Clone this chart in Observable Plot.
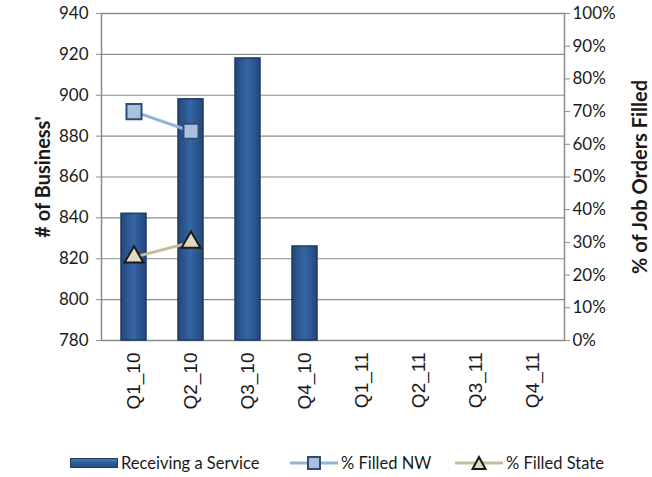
<!DOCTYPE html>
<html>
<head>
<meta charset="utf-8">
<script src="https://cdn.jsdelivr.net/npm/d3@7"></script>
<script src="https://cdn.jsdelivr.net/npm/@observablehq/plot@0.6"></script>
<style>
  body { margin: 0; background: #fff; font-family: Lato, sans-serif; }
  #chart svg [aria-label="y-axis label"] { font-weight: bold; font-size: 20px; }
  .legend { position: relative; height: 22px; margin-top: 12px; font-size: 16.5px; color: #1a1a1a; }
  .legend .item { position: absolute; top: 0; display: flex; align-items: center; height: 22px; white-space: nowrap; }
  .legend svg { margin-right: 3px; }
</style>
</head>
<body>
<div id="chart"></div>
<div class="legend">
  <div class="item" style="left:70px"><svg width="48" height="12"><defs><linearGradient id="lg" x1="0" y1="0" x2="0" y2="1"><stop offset="0" stop-color="#4C7DBA"/><stop offset="0.5" stop-color="#2E5C96"/><stop offset="1" stop-color="#244C80"/></linearGradient></defs><rect x="0.5" y="1.5" width="47" height="9" fill="url(#lg)" stroke="#1E3A5F"/></svg>Receiving a Service</div>
  <div class="item" style="left:290px"><svg width="48" height="16"><line x1="0" y1="8" x2="48" y2="8" stroke="#95B3D7" stroke-width="3"/><rect x="18" y="2" width="12" height="12" fill="#A9C0DE" stroke="#2C4D75" stroke-width="2"/></svg>% Filled NW</div>
  <div class="item" style="left:455px"><svg width="48" height="16"><line x1="0" y1="8" x2="48" y2="8" stroke="#C4BD97" stroke-width="3"/><path d="M24,2 L30.5,14 L17.5,14 Z" fill="#DDD9C3" stroke="#1a1a1a" stroke-width="2"/></svg>% Filled State</div>
</div>
<script>
const categories = ["Q1_10","Q2_10","Q3_10","Q4_10","Q1_11","Q2_11","Q3_11","Q4_11"];
const receiving = [842, 898, 918, 826];
const filledNW = [0.70, 0.64];
const filledState = [0.255, 0.30];
const leftTicks = [780, 800, 820, 840, 860, 880, 900, 920, 940];
const rightTicks = [0, 0.1, 0.2, 0.3, 0.4, 0.5, 0.6, 0.7, 0.8, 0.9, 1.0];

const yMin = 780, yMax = 940;
const pctToY = p => yMin + p * (yMax - yMin);

const bars = receiving.map((v, i) => ({cat: categories[i], value: v}));
const nw = filledNW.map((p, i) => ({cat: categories[i], y: pctToY(p)}));
const st = filledState.map((p, i) => ({cat: categories[i], y: pctToY(p)}));

const chart = Plot.plot({
  width: 652,
  height: 440,
  marginLeft: 101,
  marginRight: 88,
  marginTop: 13,
  marginBottom: 100,
  style: {fontFamily: "Lato, sans-serif", fontSize: "17px", color: "#1a1a1a", background: "#fff"},
  x: {type: "band", domain: categories, paddingInner: 0.57, paddingOuter: 0.285},
  y: {domain: [yMin, yMax]},
  marks: [
    Plot.gridY(leftTicks, {stroke: "#8c8c8c", strokeOpacity: 1, strokeWidth: 1.2}),
    Plot.frame({stroke: "#8c8c8c", strokeWidth: 1.5}),
    Plot.barY(bars, {x: "cat", y1: yMin, y2: "value", fill: "url(#barGrad)", stroke: "#1E3A5F", strokeWidth: 1.5}),
    Plot.lineY(nw, {x: "cat", y: "y", stroke: "#95B3D7", strokeWidth: 3}),
    Plot.dot(nw, {x: "cat", y: "y", symbol: "square", r: 8.5, fill: "#A9C0DE", stroke: "#2C4D75", strokeWidth: 2}),
    Plot.lineY(st, {x: "cat", y: "y", stroke: "#C4BD97", strokeWidth: 3}),
    Plot.dot(st, {x: "cat", y: "y", symbol: "triangle", r: 7, fill: "#DDD9C3", stroke: "#1a1a1a", strokeWidth: 2}),
    Plot.axisX({tickRotate: -90, tickSize: 0, tickPadding: 12, fontFamily: "'Liberation Sans', Arial, sans-serif", fontSize: 19, fill: "#1a1a1a", label: null}),
    Plot.axisY(leftTicks, {anchor: "left", tickSize: 5, tickPadding: 8, stroke: "#8c8c8c", fill: "#1a1a1a",
      label: "# of Business'", labelAnchor: "center", labelArrow: false, labelOffset: 66}),
    Plot.axisY(rightTicks.map(pctToY), {anchor: "right", tickSize: 5, tickPadding: 3, stroke: "#8c8c8c", fill: "#1a1a1a",
      tickFormat: d => Math.round((d - yMin) / (yMax - yMin) * 100) + "%",
      label: "% of Job Orders Filled", labelAnchor: "center", labelArrow: false, labelOffset: 82})
  ]
});

chart.insertAdjacentHTML("afterbegin",
  '<defs><linearGradient id="barGrad" x1="0" y1="0" x2="1" y2="0">' +
  '<stop offset="0" stop-color="#23477A"/><stop offset="0.5" stop-color="#3566A4"/><stop offset="1" stop-color="#23477A"/>' +
  '</linearGradient></defs>');
document.getElementById("chart").appendChild(chart);
</script>
</body>
</html>
